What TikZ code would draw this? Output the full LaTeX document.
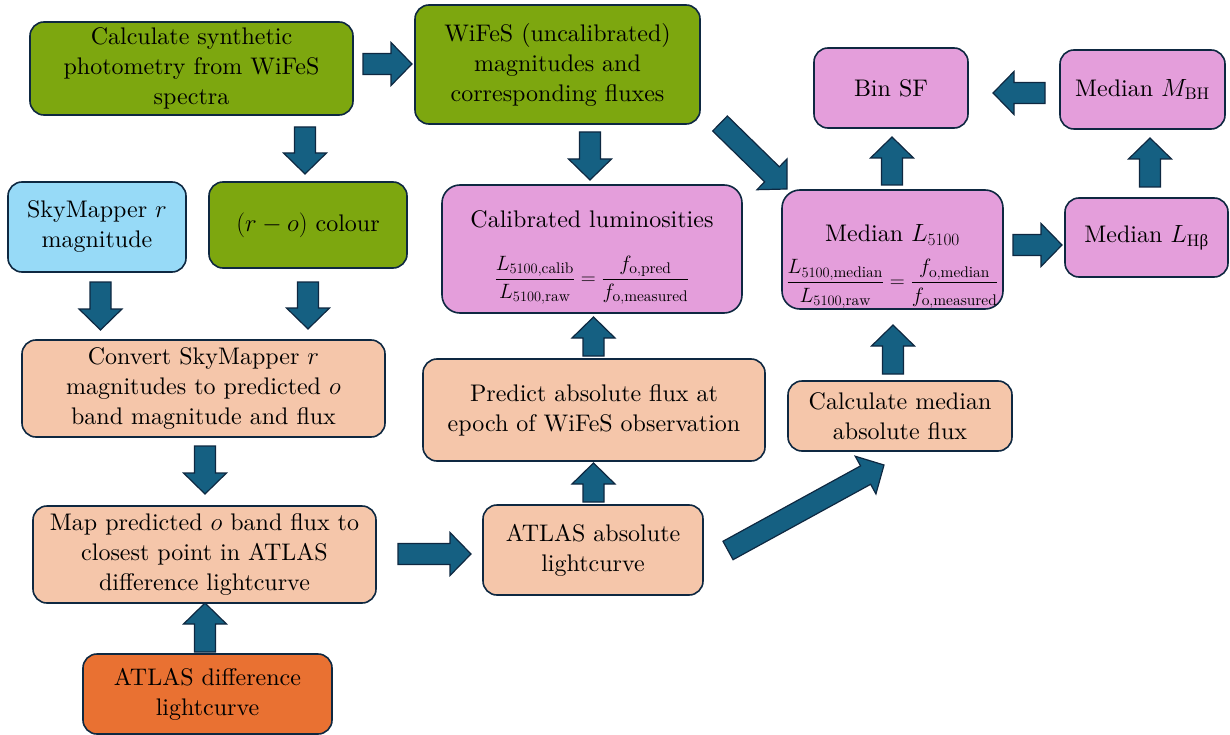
\documentclass[tikz,border=0pt]{standalone}
\usepackage{fontspec}
\setmainfont{lmroman10-regular.otf}[ItalicFont=lmroman10-italic.otf,BoldFont=lmroman10-bold.otf]
\usetikzlibrary{calc}
\newfontfamily\grk{Liberation Serif}
\definecolor{grn}{RGB}{125,167,15}
\definecolor{skyb}{RGB}{151,218,247}
\definecolor{lor}{RGB}{245,198,170}
\definecolor{dor}{RGB}{233,113,50}
\definecolor{pnk}{RGB}{228,158,219}
\definecolor{arrfill}{RGB}{21,96,130}
\definecolor{arrbord}{RGB}{14,40,65}
\definecolor{bordc}{RGB}{14,40,65}
\newcommand\blockarrow[2]{%
  \coordinate (bah) at ($(#2)!21pt!(#1)$);
  \draw[barrow] ($(#1)!10.5pt!90:(#2)$) -- ($(bah)!10.5pt!-90:(#1)$) -- ($(bah)!21.5pt!-90:(#1)$) -- (#2)
    -- ($(bah)!21.5pt!90:(#1)$) -- ($(bah)!10.5pt!90:(#1)$) -- ($(#1)!10.5pt!-90:(#2)$) -- cycle;}
\newcommand\fracfont{\fontsize{22}{26}\selectfont}
\begin{document}
\begin{tikzpicture}[x=1pt,y=-1pt,
  box/.style={draw=bordc, line width=1.6pt, rounded corners=14pt, align=center, inner sep=0pt,
    font=\fontsize{24}{30}\selectfont, text=black},
  barrow/.style={draw=arrbord, fill=arrfill, line width=1.2pt, line join=miter}]
\useasboundingbox (0,0) rectangle (1230,735);
% boxes
\node[box, fill=grn, minimum width=323pt, minimum height=93pt] (calc) at (191.5,68.5)
  {Calculate synthetic\\photometry from WiFeS\\spectra};
\node[box, fill=grn, minimum width=285pt, minimum height=119pt] (wifes) at (557.5,64.5)
  {WiFeS (uncalibrated)\\magnitudes and\\corresponding fluxes};
\node[box, fill=skyb, minimum width=178pt, minimum height=90pt] (sky) at (97,227)
  {SkyMapper $r$\\magnitude};
\node[box, fill=grn, minimum width=198pt, minimum height=86pt] (col) at (308,225)
  {$(r-o)$ colour};
\node[box, fill=lor, minimum width=363pt, minimum height=97pt] (conv) at (203.5,388.5)
  {Convert SkyMapper $r$\\magnitudes to predicted $o$\\band magnitude and flux};
\node[box, fill=lor, minimum width=343pt, minimum height=97pt] (map) at (204.5,554.5)
  {Map predicted $o$ band flux to\\closest point in ATLAS\\difference lightcurve};
\node[box, fill=dor, minimum width=249pt, minimum height=80pt] (adiff) at (207.5,694)
  {ATLAS difference\\lightcurve};
\node[box, fill=pnk, minimum width=300pt, minimum height=128pt, rounded corners=18pt] (calib) at (592,249)
  {\rule{0pt}{34pt}Calibrated luminosities\\[27pt]
   {\fracfont$\displaystyle\frac{L_{5100,\mathrm{calib}}}{L_{5100,\mathrm{raw}}}=\frac{f_{\mathrm{o,pred}}}{f_{\mathrm{o,measured}}}$}};
\node[box, fill=lor, minimum width=342pt, minimum height=102pt] (pred) at (594,410)
  {Predict absolute flux at\\epoch of WiFeS observation};
\node[box, fill=lor, minimum width=220pt, minimum height=90pt] (aabs) at (593,550)
  {ATLAS absolute\\lightcurve};
\node[box, fill=pnk, minimum width=221pt, minimum height=119pt, rounded corners=18pt] (medl) at (892.5,249.5)
  {\rule{0pt}{51pt}Median $L_{5100}$\\[13pt]
   {\fracfont$\displaystyle\frac{L_{5100,\mathrm{median}}}{L_{5100,\mathrm{raw}}}=\frac{f_{\mathrm{o,median}}}{f_{\mathrm{o,measured}}}$}};
\node[box, fill=lor, minimum width=224pt, minimum height=70pt] (cmed) at (900,416)
  {Calculate median\\absolute flux};
\node[box, fill=pnk, minimum width=154pt, minimum height=80pt] (binsf) at (891,88)
  {Bin SF};
\node[box, fill=pnk, minimum width=165pt, minimum height=79pt] (mbh) at (1142.5,89.5)
  {Median $M_{\mathrm{BH}}$};
\node[box, fill=pnk, minimum width=163pt, minimum height=79pt] (lhb) at (1146.5,237.5)
  {Median $L_{\mathrm{H}\hbox{\grk\fontsize{17}{17}\selectfont β}}$};
% arrow end points
\coordinate (a1t) at (363,64);    \coordinate (a1h) at (412,64);
\coordinate (a2t) at (305,127);   \coordinate (a2h) at (305,174);
\coordinate (a3t) at (590,132);   \coordinate (a3h) at (590,180);
\coordinate (a4t) at (720,123.5); \coordinate (a4h) at (787,189);
\coordinate (a5t) at (100.5,282); \coordinate (a5h) at (100.5,330);
\coordinate (a6t) at (308,282);   \coordinate (a6h) at (308,329);
\coordinate (a7t) at (205,446);   \coordinate (a7h) at (205,494);
\coordinate (a8t) at (205,652);   \coordinate (a8h) at (205,603);
\coordinate (a9t) at (398,554);   \coordinate (a9h) at (471,554);
\coordinate (a10t) at (593.5,502); \coordinate (a10h) at (593.5,463);
\coordinate (a11t) at (593.5,356); \coordinate (a11h) at (593.5,317);
\coordinate (a12t) at (728,550.5); \coordinate (a12h) at (884,465);
\coordinate (a13t) at (893,374);  \coordinate (a13h) at (893,325);
\coordinate (a14t) at (892,185);  \coordinate (a14h) at (892,137);
\coordinate (a15t) at (1013,245); \coordinate (a15h) at (1062,245);
\coordinate (a16t) at (1150,187); \coordinate (a16h) at (1150,138);
\coordinate (a17t) at (1045,93);  \coordinate (a17h) at (993,93);
\blockarrow{a1t}{a1h}
\blockarrow{a2t}{a2h}
\blockarrow{a3t}{a3h}
\blockarrow{a4t}{a4h}
\blockarrow{a5t}{a5h}
\blockarrow{a6t}{a6h}
\blockarrow{a7t}{a7h}
\blockarrow{a8t}{a8h}
\blockarrow{a9t}{a9h}
\blockarrow{a10t}{a10h}
\blockarrow{a11t}{a11h}
\blockarrow{a12t}{a12h}
\blockarrow{a13t}{a13h}
\blockarrow{a14t}{a14h}
\blockarrow{a15t}{a15h}
\blockarrow{a16t}{a16h}
\blockarrow{a17t}{a17h}
\end{tikzpicture}
\end{document}
